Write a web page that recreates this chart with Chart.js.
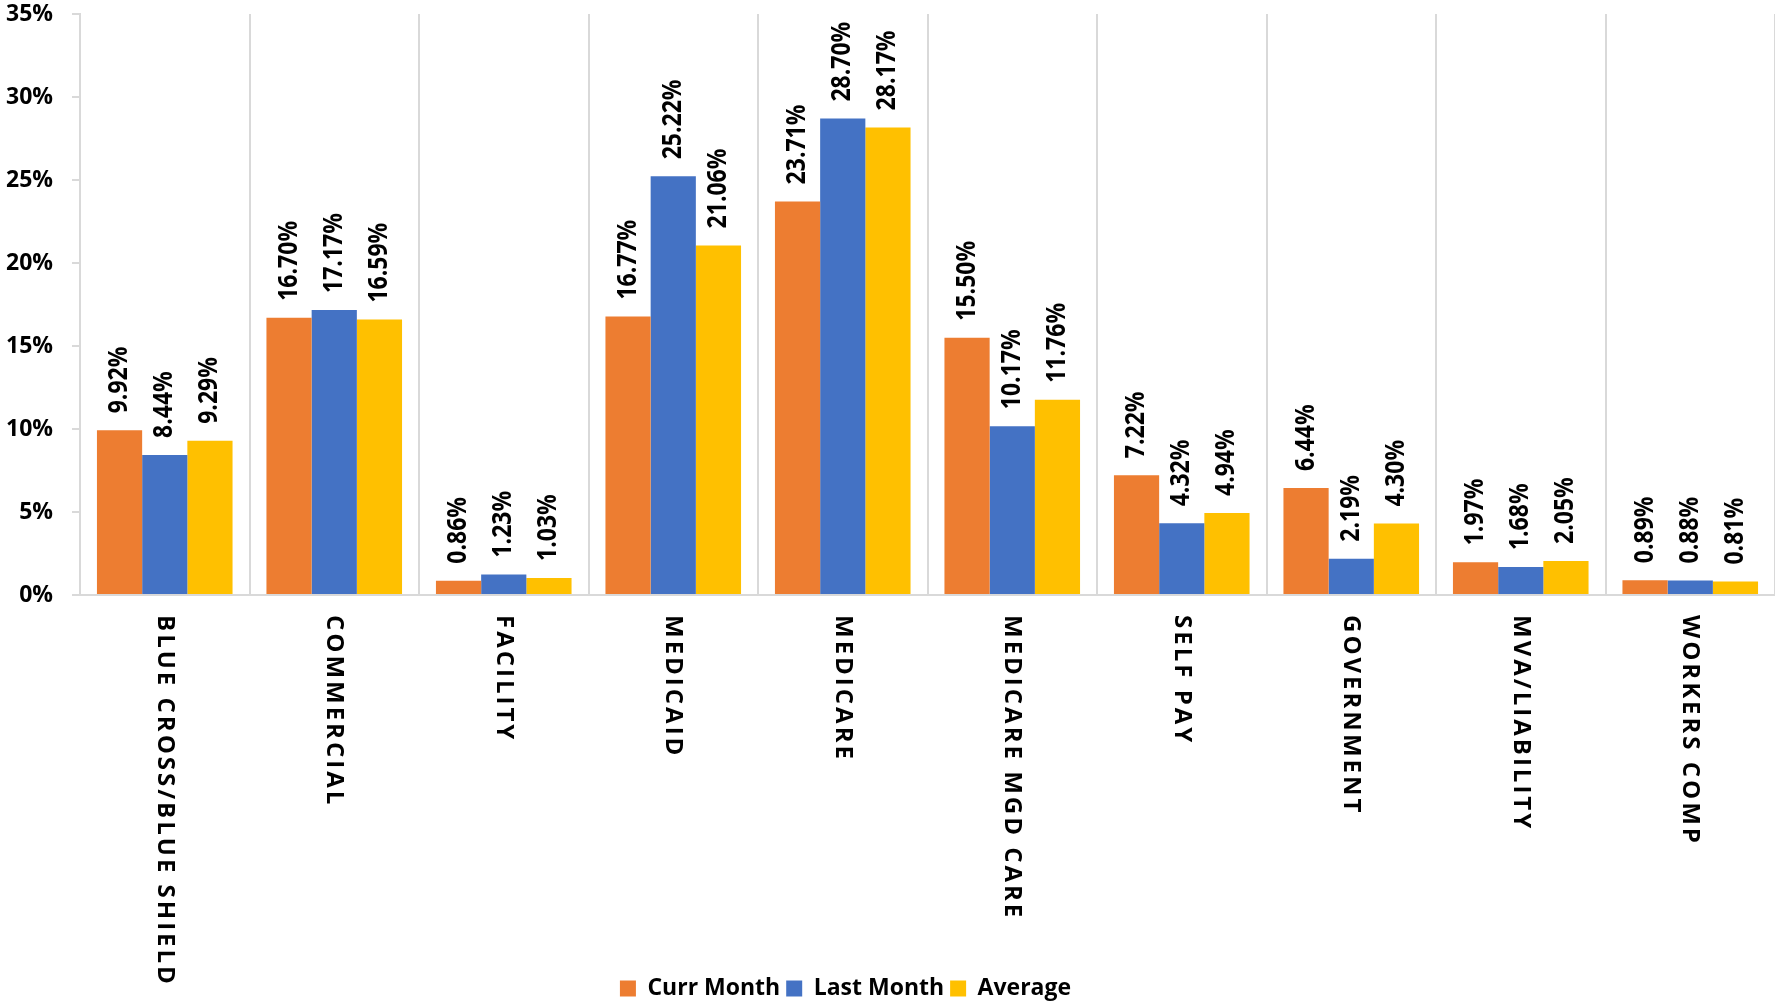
<!DOCTYPE html>
<html>
<head>
<meta charset="utf-8">
<script src="https://cdn.jsdelivr.net/npm/chart.js@4.4.1/dist/chart.umd.min.js"></script>
<style>
  html, body { margin: 0; padding: 0; background: #fff; }
  #wrap { width: 1775px; height: 1002px; }
</style>
</head>
<body>
<div id="wrap"><canvas id="chart-area"></canvas></div>
<script>
// payer mix chart

var categories = [
	"BLUE CROSS/BLUE SHIELD", "COMMERCIAL", "FACILITY", "MEDICAID", "MEDICARE",
	"MEDICARE MGD CARE", "SELF PAY", "GOVERNMENT", "MVA/LIABILITY", "WORKERS COMP"
];
var currMonth = [9.92, 16.70, 0.86, 16.77, 23.71, 15.50, 7.22, 6.44, 1.97, 0.89];
var lastMonth = [8.44, 17.17, 1.23, 25.22, 28.70, 10.17, 4.32, 2.19, 1.68, 0.88];
var average   = [9.29, 16.59, 1.03, 21.06, 28.17, 11.76, 4.94, 4.30, 2.05, 0.81];
var yTicks = [0, 5, 10, 15, 20, 25, 30, 35];

var FONT = "'Open Sans'";
var gridColor = "#d9d9d9";

// value labels above each bar, rotated to read bottom to top
var barLabels = {
	id: 'barLabels',
	afterDatasetsDraw: function(chart) {
		var ctx = chart.ctx;
		ctx.save();
		ctx.fillStyle = "#000";
		ctx.font = "bold 23px " + FONT;
		ctx.textAlign = "left";
		ctx.textBaseline = "middle";
		chart.data.datasets.forEach(function(ds, di) {
			var meta = chart.getDatasetMeta(di);
			meta.data.forEach(function(bar, i) {
				ctx.save();
				ctx.translate(bar.x, bar.y - 17);
				ctx.rotate(-Math.PI / 2);
				ctx.scale(1, 1.15);
				ctx.fillText(ds.data[i].toFixed(2) + "%", 0, 0);
				ctx.restore();
			});
		});
		ctx.restore();
	}
};

// category labels, rotated to read top to bottom
var catLabels = {
	id: 'catLabels',
	afterLayout: function(chart) {
		// legend sits a bit left of centre in the original
		if (chart.legend) {
			chart.legend.left -= 42;
			chart.legend.right -= 42;
		}
	},
	afterDraw: function(chart) {
		var ctx = chart.ctx;
		var xs = chart.scales.x;
		ctx.save();
		ctx.fillStyle = "#000";
		ctx.font = "bold 24px " + FONT;
		ctx.letterSpacing = "3px";
		ctx.textAlign = "left";
		ctx.textBaseline = "middle";
		categories.forEach(function(c, i) {
			ctx.save();
			ctx.translate(xs.getPixelForValue(i), chart.chartArea.bottom + 20);
			ctx.rotate(Math.PI / 2);
			ctx.fillText(c, 0, 0);
			ctx.restore();
		});
		ctx.restore();
	}
};

var config = {
	type: 'bar',
	data: {
		labels: categories,
		datasets: [{
			label: "Curr Month",
			data: currMonth,
			backgroundColor: "#ED7D31"
		}, {
			label: "Last Month",
			data: lastMonth,
			backgroundColor: "#4472C4"
		}, {
			label: "Average",
			data: average,
			backgroundColor: "#FFC000"
		}]
	},
	options: {
		responsive: true,
		maintainAspectRatio: false,
		animation: false,
		datasets: {
			bar: { categoryPercentage: 0.8, barPercentage: 1.0 }
		},
		layout: { padding: { top: 0, right: 0, left: 0, bottom: -8 } },
		scales: {
			x: {
				grid: { color: gridColor, lineWidth: 2, drawTicks: false, offset: true },
				border: { color: gridColor, width: 2 },
				ticks: { display: false },
				afterFit: function(s) { s.height = 376; }
			},
			y: {
				min: 0,
				max: 35,
				afterBuildTicks: function(s) {
					s.ticks = yTicks.map(function(v) { return { value: v }; });
				},
				grid: { color: gridColor, lineWidth: 2, drawOnChartArea: false, tickLength: 8 },
				border: { color: gridColor, width: 2 },
				ticks: {
					color: "#000",
					padding: 19,
					font: { family: FONT, size: 23, weight: "bold" },
					callback: function(v) { return v + "%"; }
				},
				afterFit: function(s) {
					s.width = 80;
					s.paddingTop = 14;
					s.paddingBottom = 0;
				}
			}
		},
		plugins: {
			legend: {
				position: 'bottom',
				labels: {
					color: "#000",
					boxWidth: 16,
					boxHeight: 16,
					padding: 6,
					font: { family: FONT, size: 23, weight: "bold" }
				}
			},
			tooltip: { enabled: false }
		}
	},
	plugins: [barLabels, catLabels]
};

window.onload = function() {
	var ctx = document.getElementById("chart-area").getContext("2d");
	window.myBar = new Chart(ctx, config);
};
</script>
</body>
</html>
